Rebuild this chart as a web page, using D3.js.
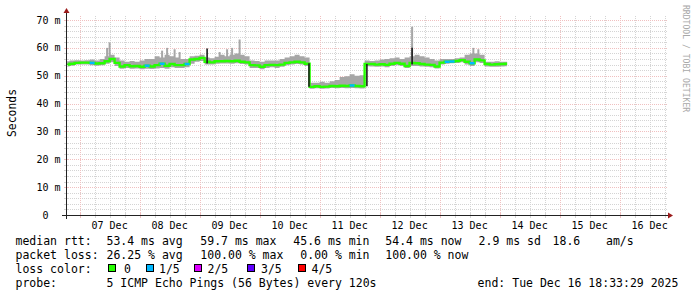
<!DOCTYPE html>
<html><head><meta charset="utf-8">
<script src="https://cdn.jsdelivr.net/npm/d3@7"></script>
<style>
html,body{margin:0;padding:0;background:#fff;}
svg{display:block;}
text{white-space:pre;}
</style></head><body><svg id="c" width="697" height="297"></svg>
<script>
// ---------- data ----------
const startTime = Date.UTC(2025, 11, 6, 18, 33, 29);
const endTime   = Date.UTC(2025, 11, 16, 18, 33, 29);
const firstSample = Date.UTC(2025, 11, 6, 19, 0, 0);
const stepHours = 2;

const median = [54.0,54.3,54.6,54.7,54.7,54.6,54.4,54.5,55.2,56.0,
                54.6,53.3,53.8,53.4,53.5,53.2,53.6,53.3,53.8,54.3,
                53.6,54.2,53.8,53.8,54.2,55.8,56.0,56.4,55.0,54.8,
                55.2,55.2,55.3,55.2,55.4,55.0,54.8,53.8,53.7,53.2,
                53.8,53.9,53.8,54.0,54.6,54.8,55.0,54.8,54.3,46.0,
                46.2,46.0,46.1,46.3,46.2,46.4,46.3,46.5,46.3,46.2,
                54.2,54.2,54.0,54.1,53.9,54.3,54.6,54.3,53.5,54.6,
                54.5,54.2,54.0,53.9,53.3,54.7,55.0,55.1,55.3,55.6,
                55.0,54.5,55.8,55.5,54.2,54.0,54.1,54.2,54.3];
const lossLevel = [0,0,0,0,0,1,0,0,0,0,
                   0,0,0,0,0,0,1,0,0,1,
                   0,0,0,0,1,0,0,0,0,0,
                   0,0,0,0,0,0,0,0,0,0,
                   0,0,0,0,0,0,0,0,0,0,
                   0,0,0,0,0,0,0,1,0,0,
                   0,0,0,0,0,0,0,0,0,0,
                   0,0,0,0,0,0,1,1,0,0,
                   0,1,0,0,0,0,0,0,0];
const smokeLo = [53.3,53.6,54.0,54.0,54.0,53.8,53.6,53.8,54.3,54.8,
                 53.5,52.5,52.8,52.5,52.6,52.3,52.5,52.4,52.6,52.8,
                 52.5,53.0,52.8,52.8,53.0,54.3,55.0,55.3,54.0,54.0,
                 54.3,54.4,54.4,54.3,54.5,54.2,54.0,52.8,52.8,52.3,
                 52.8,53.0,52.8,53.2,53.8,54.0,54.2,54.0,53.5,45.3,
                 45.5,45.3,45.4,45.6,45.5,45.6,45.5,45.6,45.5,45.4,
                 53.4,53.3,53.2,53.3,53.0,53.5,53.8,53.5,52.8,53.5,
                 53.5,53.3,53.2,53.0,52.6,54.0,54.3,54.5,54.6,54.8,
                 54.0,53.5,54.8,54.6,53.3,53.2,53.2,53.3,53.4];
const smokeHi = [55.2,55.5,55.6,55.5,55.6,55.8,55.5,56.0,57.0,57.5,
                 56.5,55.5,55.0,55.3,55.0,55.5,56.0,56.0,57.0,56.5,
                 57.5,57.0,56.5,56.0,56.0,57.0,57.2,57.5,56.5,56.3,
                 56.8,57.5,57.0,57.5,58.0,57.5,57.0,55.5,55.3,55.0,
                 55.5,55.5,55.5,56.0,56.5,57.0,57.5,57.0,56.5,47.5,
                 47.5,47.8,47.5,48.0,48.5,49.5,49.8,50.5,50.0,50.2,
                 55.5,55.3,55.5,55.8,56.0,56.3,56.5,56.0,56.5,57.0,
                 57.5,57.0,56.5,56.0,55.5,56.0,56.0,56.0,56.3,56.5,
                 57.5,58.0,58.0,57.5,55.0,55.0,55.2,55.0,55.0];
// thin single-column spikes of the smoke (light = outer pings, dark = inner pings)
const spikeTimes = ["2025-12-07T11:00Z","2025-12-07T12:00Z","2025-12-08T09:00Z","2025-12-08T11:00Z",
                    "2025-12-08T14:00Z","2025-12-08T16:00Z","2025-12-09T03:00Z","2025-12-09T08:00Z",
                    "2025-12-09T11:00Z","2025-12-09T13:00Z","2025-12-09T16:00Z","2025-12-10T19:45Z",
                    "2025-12-11T18:55Z","2025-12-12T13:00Z","2025-12-12T13:00Z","2025-12-13T13:30Z",
                    "2025-12-13T15:30Z"];
const spikeLo = [55.0,55.0,54.0,54.0,54.0,54.0,54.4,55.0,55.0,55.0,55.0,46.0,46.2,55.0,54.0,55.0,55.5];
const spikeHi = [60.0,62.0,59.0,60.0,59.5,58.5,59.8,58.5,59.5,60.0,63.0,54.5,54.2,67.6,60.0,60.0,59.5];
const spikeDark = [0,0,0,0,0,0,1,0,0,0,0,1,1,0,1,0,0];

const yTicks = [0,10,20,30,40,50,60,70];
const yTickLabels = ["0  ","10 m","20 m","30 m","40 m","50 m","60 m","70 m"];
const dayLabels = ["07 Dec","08 Dec","09 Dec","10 Dec","11 Dec","12 Dec","13 Dec","14 Dec","15 Dec","16 Dec"];
const lossLabels = ["0","1/5","2/5","3/5","4/5"];
const lossColors = ["#26ff00","#00b8ff","#dd00ff","#5e00ff","#ff0000"];

const legendRow1 = ["median rtt:","53.4 ms avg","59.7 ms max","45.6 ms min","54.4 ms now","2.9 ms sd","18.6","am/s"];
const legendRow2 = ["packet loss:","26.25 % avg","100.00 % max","0.00 % min","100.00 % now"];
const legendRow3Title = "loss color:";
const legendRow4 = ["probe:","5 ICMP Echo Pings (56 Bytes) every 120s","end: Tue Dec 16 18:33:29 2025"];
const yTitle = "Seconds";
const watermark = "RRDTOOL / TOBI OETIKER";

// ---------- layout ----------
const svg = d3.select("#c");
const X0 = 66, X1 = 666, Y0 = 215, YT = 15;
const x = d3.scaleUtc().domain([new Date(startTime), new Date(endTime)]).range([X0, X1]);
const y = d3.scaleLinear().domain([0, 71.8]).range([Y0, YT]);
const mono = "'DejaVu Sans Mono', monospace";
const minorCol = "#d4d4d4", majorCol = "#f0c0c0";

svg.append("rect").attr("width",697).attr("height",297).attr("fill","#fff");

// grid
const g = svg.append("g");
const minorY = d3.range(2, 72, 2).filter(v => v % 10 !== 0);
const majorY = yTicks.filter(v => v > 0);
const dayTicks = x.ticks(d3.utcDay.every(1));
const sixHour = d3.utcHour.every(6).range(new Date(startTime), new Date(endTime)).filter(d => d.getUTCHours() !== 0);
const py = v => Math.round(y(v)) + 0.5;
const pxx = d => Math.round(x(d)) + 0.5;

g.selectAll(".hmin").data(minorY).join("line")
  .attr("x1", X0).attr("x2", X1 + 2).attr("y1", py).attr("y2", py)
  .attr("stroke", minorCol).attr("stroke-dasharray", "1,1");
g.selectAll(".vmin").data(sixHour).join("line")
  .attr("x1", pxx).attr("x2", pxx).attr("y1", Y0).attr("y2", YT)
  .attr("stroke", minorCol).attr("stroke-dasharray", "1,1");
g.selectAll(".hmaj").data(majorY).join("line")
  .attr("x1", X0).attr("x2", X1 + 2).attr("y1", py).attr("y2", py)
  .attr("stroke", majorCol).attr("stroke-dasharray", "1,1");
g.selectAll(".vmaj").data(dayTicks).join("line")
  .attr("x1", pxx).attr("x2", pxx).attr("y1", Y0).attr("y2", YT)
  .attr("stroke", majorCol).attr("stroke-dasharray", "1,1");

// ---------- data marks ----------
const samples = median.map((m, i) => ({
  t: new Date(firstSample + i * stepHours * 3600e3),
  m, loss: lossLevel[i], lo: smokeLo[i], hi: smokeHi[i]
}));
svg.append("clipPath").attr("id","pc").append("rect")
  .attr("x", X0 + 1).attr("y", YT).attr("width", X1 - X0).attr("height", Y0 - YT);
const plot = svg.append("g").attr("clip-path","url(#pc)");

plot.append("path").datum(samples)
  .attr("d", d3.area().curve(d3.curveStep).x(d => x(d.t)).y0(d => y(d.lo)).y1(d => y(d.hi)))
  .attr("fill", "#a6a6a6");

const spikes = spikeTimes.map((t, i) => ({t: new Date(t), lo: spikeLo[i], hi: spikeHi[i], dark: spikeDark[i]}));
plot.selectAll(".spk").data(spikes.filter(s => !s.dark)).join("line")
  .attr("x1", d => x(d.t)).attr("x2", d => x(d.t)).attr("y1", d => y(d.lo)).attr("y2", d => y(d.hi))
  .attr("stroke", "#a6a6a6").attr("stroke-width", 2);

plot.append("path").datum(samples)
  .attr("d", d3.line().curve(d3.curveStep).x(d => x(d.t)).y(d => y(d.m)))
  .attr("fill", "none").attr("stroke", lossColors[0]).attr("stroke-width", 2.4);

const half = stepHours * 3600e3 / 2;
plot.selectAll(".lossseg").data(samples.filter(d => d.loss > 0)).join("line")
  .attr("x1", d => x(new Date(+d.t - half))).attr("x2", d => x(new Date(+d.t + half)))
  .attr("y1", d => y(d.m)).attr("y2", d => y(d.m))
  .attr("stroke", d => lossColors[d.loss]).attr("stroke-width", 2.4);

plot.selectAll(".dspk").data(spikes.filter(s => s.dark)).join("line")
  .attr("x1", d => x(d.t)).attr("x2", d => x(d.t)).attr("y1", d => y(d.lo)).attr("y2", d => y(d.hi))
  .attr("stroke", "#1a1a1a").attr("stroke-width", 1.6);

// ---------- axes ----------
const ax = svg.append("g");
ax.selectAll(".yt").data(minorY.concat(majorY)).join("line")
  .attr("x1", X0 - 2).attr("x2", X0 + 2).attr("y1", py).attr("y2", py)
  .attr("stroke", d => d % 10 ? minorCol : majorCol);
ax.selectAll(".xt").data(sixHour.concat(dayTicks)).join("line")
  .attr("x1", pxx).attr("x2", pxx).attr("y1", Y0 - 2).attr("y2", Y0 + 3)
  .attr("stroke", d => d.getUTCHours() ? minorCol : majorCol);
ax.append("line").attr("x1", X0 - 4).attr("x2", X1 + 3).attr("y1", Y0 + 0.5).attr("y2", Y0 + 0.5).attr("stroke", "#222");
ax.append("line").attr("x1", X0 + 0.5).attr("x2", X0 + 0.5).attr("y1", Y0 + 4).attr("y2", YT - 3).attr("stroke", "#222");
ax.append("path").attr("d", `M${X1+2},${Y0-2.5}L${X1+7},${Y0+0.5}L${X1+2},${Y0+3.5}Z`).attr("fill", "#9b1b1b");
ax.append("path").attr("d", `M${X0-2.5},${YT-2}L${X0+0.5},${YT-7}L${X0+3.5},${YT-2}Z`).attr("fill", "#9b1b1b");

ax.selectAll(".yl").data(yTicks).join("text")
  .attr("x", 60.5).attr("y", d => y(d) + 3.5).attr("text-anchor", "end")
  .attr("font-family", mono).attr("font-size", 10).attr("fill", "#000")
  .text((d, i) => yTickLabels[i]);
ax.selectAll(".xl").data(dayTicks.slice(0, dayLabels.length)).join("text")
  .attr("x", d => x(d3.utcHour.offset(d, 12))).attr("y", 228.5).attr("text-anchor", "middle")
  .attr("font-family", mono).attr("font-size", 10).attr("fill", "#000")
  .text((d, i) => dayLabels[i]);

svg.append("text").attr("transform", "translate(15.5,113) rotate(-90)").attr("text-anchor", "middle")
  .attr("font-family", mono).attr("font-size", 11.4).attr("fill", "#000").text(yTitle);
svg.append("text").attr("transform", "translate(683,5) rotate(90)")
  .attr("font-family", mono).attr("font-size", 8.1).attr("fill", "#a8a8a8").text(watermark);

// ---------- legend ----------
const lg = svg.append("g").attr("font-family", mono).attr("font-size", 11.5).attr("fill", "#000");
const row1X = [15.5,106.5,200.3,293.3,385.3,478.6,552.6,606];
const row2X = [15.5,106.5,200.3,300.3,385.3];
const row4X = [15.5,106.5,477.6];
legendRow1.forEach((s, i) => lg.append("text").attr("x", row1X[i]).attr("y", 244.5).text(s));
legendRow2.forEach((s, i) => lg.append("text").attr("x", row2X[i]).attr("y", 258.5).text(s));
lg.append("text").attr("x", 15.5).attr("y", 272.5).text(legendRow3Title);
const swX = [108,146,194,247,298];
const swLabX = [124,159,207.5,261,311.5];
lossLabels.forEach((s, i) => {
  lg.append("rect").attr("x", swX[i] + 0.5).attr("y", 264.5).attr("width", 7).attr("height", 7)
    .attr("fill", lossColors[i]).attr("stroke", "#000").attr("stroke-width", 1);
  lg.append("text").attr("x", swLabX[i]).attr("y", 272.5).text(s);
});
legendRow4.forEach((s, i) => lg.append("text").attr("x", row4X[i]).attr("y", 286.5).text(s));
</script></body></html>
